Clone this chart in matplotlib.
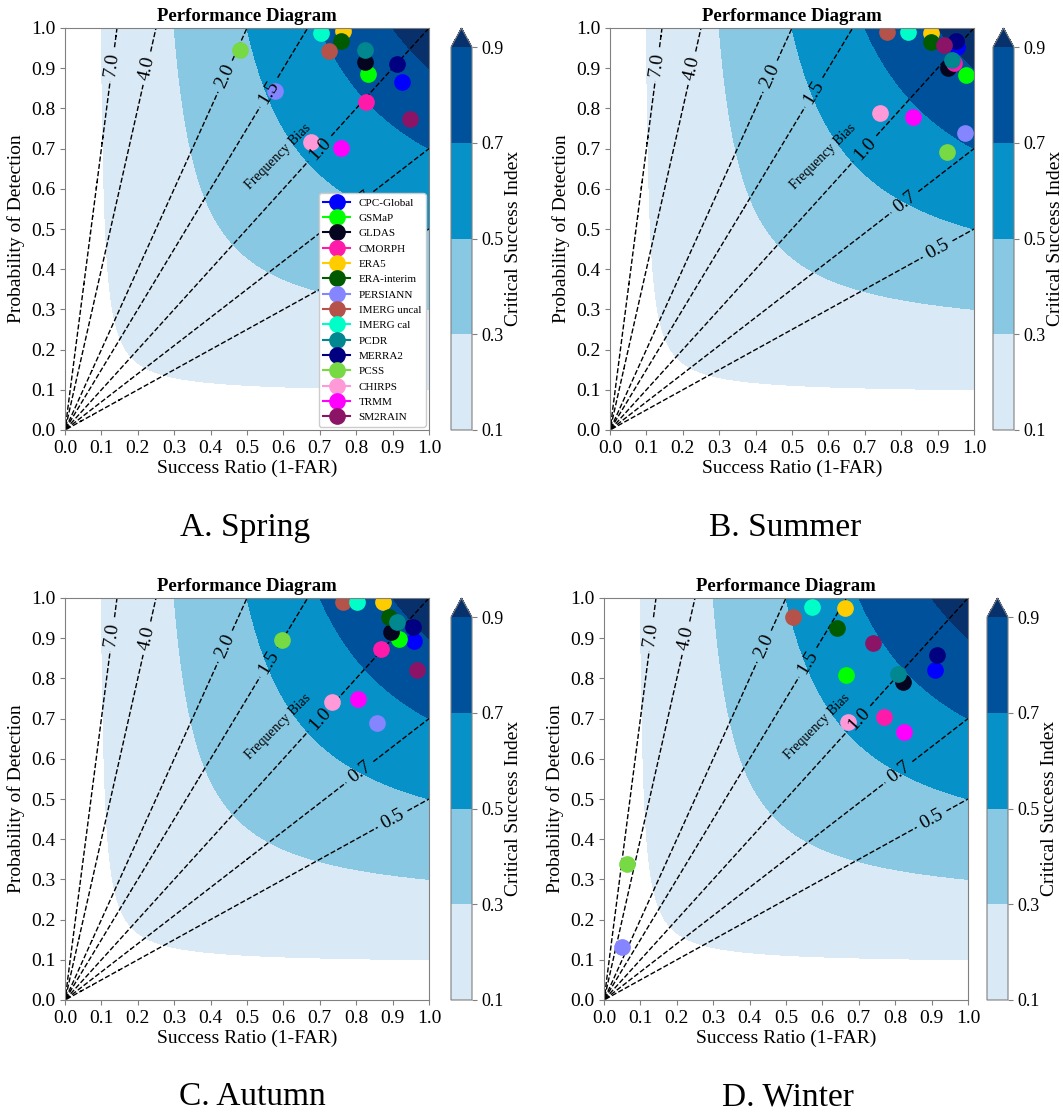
import numpy as np
import matplotlib
matplotlib.use("Agg")
import matplotlib.pyplot as plt

plt.rcParams['font.family'] = ['Liberation Serif', 'DejaVu Serif']

# products and their marker colours
products = ["CPC-Global", "GSMaP", "GLDAS", "CMORPH", "ERA5", "ERA-interim",
            "PERSIANN", "IMERG uncal", "IMERG cal", "PCDR", "MERRA2", "PCSS",
            "CHIRPS", "TRMM", "SM2RAIN"]
colors = ["#0000ff", "#00ff00", "#050520", "#ff1aaa", "#ffcc00", "#005a00",
          "#8585ff", "#b5524a", "#00ffc8", "#008790", "#000080", "#77d944",
          "#ff99d8", "#ff00ff", "#8c1466"]

# success ratio / probability of detection for each season
spring_sr = [0.926, 0.832, 0.824, 0.827, 0.764, 0.758, 0.577, 0.725, 0.703, 0.824, 0.912, 0.481, 0.676, 0.758, 0.948]
spring_pod = [0.866, 0.886, 0.915, 0.816, 0.993, 0.968, 0.843, 0.943, 0.988, 0.945, 0.910, 0.945, 0.716, 0.701, 0.774]

summer_sr = [0.953, 0.978, 0.929, 0.945, 0.882, 0.882, 0.975, 0.762, 0.819, 0.940, 0.951, 0.926, 0.742, 0.833, 0.918]
summer_pod = [0.953, 0.883, 0.900, 0.913, 0.988, 0.965, 0.739, 0.990, 0.990, 0.920, 0.968, 0.692, 0.789, 0.779, 0.958]

autumn_sr = [0.959, 0.918, 0.896, 0.868, 0.874, 0.890, 0.857, 0.764, 0.802, 0.912, 0.956, 0.596, 0.734, 0.805, 0.967]
autumn_pod = [0.893, 0.898, 0.915, 0.873, 0.990, 0.953, 0.689, 0.990, 0.990, 0.940, 0.928, 0.896, 0.741, 0.749, 0.821]

winter_sr = [0.909, 0.665, 0.821, 0.769, 0.662, 0.640, 0.049, 0.519, 0.571, 0.808, 0.915, 0.063, 0.670, 0.824, 0.739]
winter_pod = [0.821, 0.808, 0.791, 0.704, 0.975, 0.925, 0.132, 0.953, 0.978, 0.811, 0.858, 0.338, 0.692, 0.667, 0.888]

captions = ["A. Spring", "B. Summer", "C. Autumn", "D. Winter"]

csi_levels = [0.1, 0.3, 0.5, 0.7, 0.9]
csi_colors = ["#dae9f6", "#89c8e3", "#0692c8", "#00519c"]
csi_over = "#08306b"
bias_levels = [0.5, 0.7, 1.0, 1.5, 2.0, 4.0, 7.0]
# x position where each bias label sits
bias_label_x = [0.90, 0.81, 0.70, 0.56, 0.44, 0.225, 0.13]

# grid for background
g = np.linspace(0.002, 1.0, 500)
sr_g, pod_g = np.meshgrid(g, g)
bias_g = pod_g / sr_g
csi_g = 1.0 / (1.0 / sr_g + 1.0 / pod_g - 1.0)

fig = plt.figure(figsize=(10.63, 11.13), dpi=100)
W, H = 1063.0, 1113.0

# pixel layout: (axes left, axes top, colorbar left, caption x, caption y)
layout = [(65, 28, 451, 245, 528),
          (610, 28, 993, 785, 528),
          (65, 598, 451, 252, 1097),
          (604, 598, 987, 788, 1097)]
ax_w, ax_h = 364, 402

seasons = [(spring_sr, spring_pod), (summer_sr, summer_pod),
           (autumn_sr, autumn_pod), (winter_sr, winter_pod)]

for i, ((sr, pod), (lx, ty, cx, capx, capy)) in enumerate(zip(seasons, layout)):
    ax = fig.add_axes([lx / W, (H - ty - ax_h) / H, ax_w / W, ax_h / H])
    cax = fig.add_axes([cx / W, (H - ty - ax_h) / H, 21 / W, ax_h / H])

    cf = ax.contourf(sr_g, pod_g, csi_g, csi_levels, colors=csi_colors, extend="max")
    cf.cmap.set_over(csi_over)
    cs = ax.contour(sr_g, pod_g, bias_g, bias_levels, colors="k",
                    linestyles="dashed", linewidths=1.0)
    ax.clabel(cs, fmt="%1.1f", fontsize=14, inline=True,
              manual=[(x, b * x) for b, x in zip(bias_levels, bias_label_x)])

    for name, c, s, p in zip(products, colors, sr, pod):
        ax.plot([s], [p], marker="o", ms=11, color=c, label=name)

    ax.text(0.585, 0.68, "Frequency Bias", fontsize=10, rotation=45,
            ha="center", va="center")

    ax.set_xlim(0, 1)
    ax.set_ylim(0, 1)
    ax.set_xticks(np.arange(0, 1.01, 0.1))
    ax.set_yticks(np.arange(0, 1.01, 0.1))
    ax.tick_params(labelsize=14, color="gray")
    for sp in ax.spines.values():
        sp.set_color("gray")
    ax.set_xlabel("Success Ratio (1-FAR)", fontsize=14, labelpad=2)
    ax.set_ylabel("Probability of Detection", fontsize=14, labelpad=4)
    ax.set_title("Performance Diagram", fontsize=13.5, fontweight="bold", pad=5)

    cb = fig.colorbar(cf, cax=cax)
    cb.set_ticks(csi_levels)
    cb.ax.tick_params(labelsize=13, color="gray")
    cb.outline.set_edgecolor("gray")
    cb.set_label("Critical Success Index", fontsize=14, labelpad=1)

    if i == 0:
        ax.legend(loc="lower right", fontsize=8, labelspacing=0.5,
                  handlelength=2.4, borderpad=0.4, framealpha=1.0,
                  borderaxespad=0.3)

    fig.text(capx / W, (H - capy) / H, captions[i], fontsize=24,
             ha="center", va="center")

fig.savefig("out.png", dpi=100)
